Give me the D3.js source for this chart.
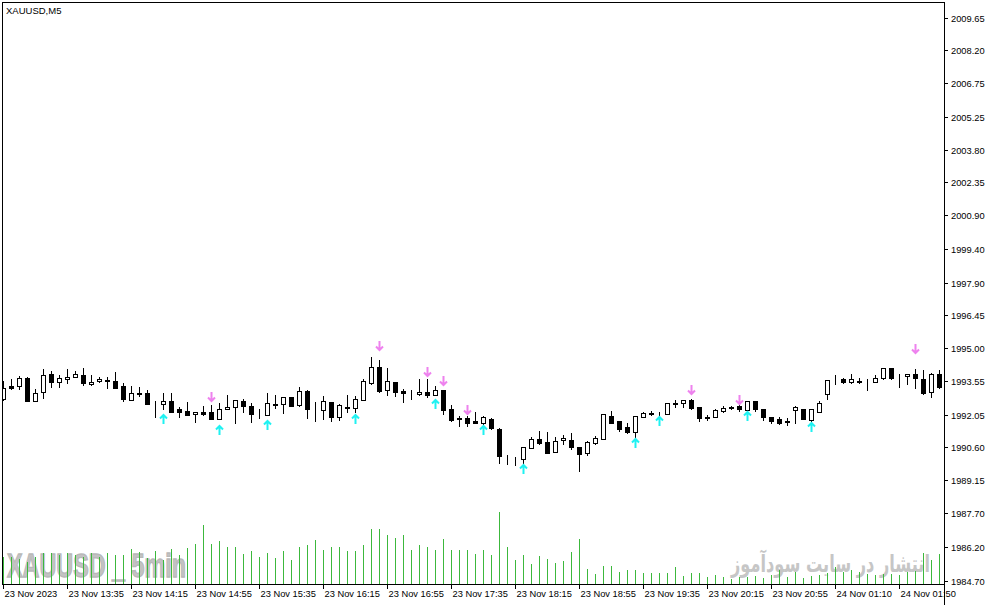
<!DOCTYPE html>
<html>
<head>
<meta charset="utf-8">
<script src="https://cdn.jsdelivr.net/npm/d3@7"></script>
<style>
  html, body { margin: 0; padding: 0; background: #fff; }
  svg text { font-family: "Liberation Sans", Arial, sans-serif; }
</style>
</head>
<body>
<svg id="chart" width="991" height="605"></svg>
<script>
// XAUUSD M5 bars
var opens = [1992.75,1993.30,1993.31,1993.68,1992.67,1993.04,1993.84,1993.49,1993.62,1993.71,
  1993.81,1993.40,1993.54,1993.60,1993.54,1993.32,1992.71,1993.02,1993.01,1992.63,
  1992.51,1992.65,1992.30,1992.20,1992.07,1992.16,1992.17,1991.85,1992.29,1992.38,
  1992.66,1992.42,1992.08,1992.03,1992.49,1992.51,1992.82,1992.46,1993.10,1992.27,
  1992.25,1992.62,1991.96,1992.39,1992.33,1992.69,1993.47,1994.15,1993.13,1993.49,
  1993.10,1993.01,1992.95,1993.06,1992.92,1993.13,1992.31,1991.88,1991.88,1991.79,
  1991.69,1991.87,1991.43,1990.19,1990.14,1990.09,1990.56,1990.96,1990.84,1990.39,
  1990.94,1990.91,1990.60,1990.33,1990.81,1990.96,1991.99,1991.77,1991.52,1991.27,
  1991.96,1992.13,1992.10,1992.09,1992.54,1992.55,1992.68,1992.37,1991.94,1991.94,
  1992.21,1992.38,1992.42,1992.25,1992.64,1992.29,1991.93,1991.86,1991.75,1992.24,
  1992.30,1991.81,1992.16,1992.98,1993.58,1993.64,1993.51,1993.53,1993.54,1993.51,
  1993.66,1994.10,1993.70,1993.75,1993.85,1993.62,1993.07,1993.85];
var highs = [1993.54,1993.62,1993.76,1993.71,1993.18,1994.07,1993.99,1993.82,1994.07,1993.99,
  1994.12,1993.81,1993.72,1993.72,1993.94,1993.44,1993.32,1993.26,1993.14,1992.65,
  1993.00,1993.00,1992.38,1992.60,1992.17,1992.45,1992.46,1992.56,1992.91,1992.69,
  1992.73,1992.56,1992.29,1993.00,1992.91,1992.83,1992.83,1993.26,1993.14,1992.60,
  1992.89,1992.63,1992.54,1992.91,1992.89,1993.62,1994.59,1994.47,1994.12,1993.50,
  1993.19,1993.14,1993.63,1993.63,1993.32,1993.14,1992.46,1991.97,1992.01,1992.17,
  1991.97,1991.88,1991.44,1990.25,1990.19,1990.62,1991.06,1991.33,1991.28,1991.04,
  1991.15,1991.22,1990.61,1990.88,1991.10,1992.08,1992.21,1991.78,1991.70,1992.00,
  1992.17,1992.21,1992.18,1992.56,1992.70,1992.69,1992.74,1992.38,1992.02,1992.31,
  1992.45,1992.45,1992.61,1992.65,1992.65,1992.30,1991.94,1991.94,1991.89,1992.45,
  1992.31,1992.29,1992.67,1993.59,1993.81,1993.69,1993.85,1993.69,1993.62,1993.81,
  1994.11,1994.11,1993.85,1993.85,1994.07,1994.03,1993.88,1994.03];
var lows = [1992.72,1993.18,1993.18,1992.66,1992.66,1992.78,1993.29,1993.29,1993.44,1993.70,
  1993.37,1993.35,1993.49,1993.25,1993.23,1992.66,1992.71,1992.86,1992.53,1991.95,
  1992.29,1992.17,1991.96,1992.04,1991.74,1992.05,1991.86,1991.84,1992.28,1991.67,
  1992.16,1991.71,1991.89,1992.02,1992.33,1992.14,1992.44,1992.45,1991.91,1991.76,
  1991.85,1991.78,1991.81,1992.18,1992.18,1992.68,1993.42,1993.07,1992.94,1992.88,
  1992.60,1992.76,1992.94,1992.82,1992.91,1992.08,1991.79,1991.54,1991.54,1991.67,
  1991.65,1991.43,1989.89,1989.85,1989.82,1989.91,1990.55,1990.74,1990.34,1990.38,
  1990.74,1990.51,1989.57,1990.25,1990.77,1990.95,1991.69,1991.34,1991.22,1991.03,
  1991.93,1992.02,1991.96,1992.08,1992.40,1992.40,1992.31,1991.78,1991.81,1991.93,
  1992.15,1992.30,1992.19,1992.24,1992.19,1991.82,1991.70,1991.62,1991.59,1991.70,
  1991.84,1991.78,1992.15,1992.76,1993.40,1993.44,1993.44,1993.44,1993.14,1993.50,
  1993.65,1993.63,1993.29,1993.41,1993.25,1992.95,1992.81,1993.25];
var closes = [1993.25,1993.25,1993.66,1992.67,1993.02,1993.80,1993.49,1993.68,1993.72,1993.84,
  1993.44,1993.49,1993.63,1993.54,1993.25,1992.75,1993.01,1992.97,1992.54,1992.59,
  1992.65,1992.18,1992.17,1992.05,1992.16,1992.10,1991.87,1992.29,1992.38,1992.69,
  1992.42,1992.07,1992.07,1992.56,1992.52,1992.82,1992.45,1993.09,1992.29,1992.25,
  1992.65,1991.95,1992.48,1992.33,1992.73,1993.53,1994.15,1993.11,1993.53,1993.07,
  1993.00,1992.99,1993.06,1992.91,1993.13,1992.24,1991.80,1991.85,1991.67,1991.68,
  1991.94,1991.44,1990.20,1990.17,1990.15,1990.61,1990.96,1990.81,1990.35,1990.90,
  1991.00,1990.60,1990.29,1990.84,1991.00,1992.07,1991.70,1991.43,1991.30,1991.99,
  1992.13,1992.09,1992.08,1992.55,1992.55,1992.68,1992.35,1991.89,1991.92,1992.25,
  1992.35,1992.36,1992.30,1992.64,1992.32,1991.94,1991.79,1991.67,1991.74,1992.38,
  1991.85,1992.28,1992.55,1993.58,1993.59,1993.51,1993.63,1993.51,1993.53,1993.66,
  1994.10,1993.69,1993.71,1993.84,1993.69,1993.02,1993.85,1993.26];
var volumes = [273,273,247,223,273,307,307,290,307,287,
  273,307,273,313,290,290,353,323,257,333,
  240,350,290,360,400,590,403,430,370,370,
  303,330,273,313,263,330,240,370,390,440,
  343,370,370,330,330,390,550,550,493,460,
  493,340,390,370,340,450,340,340,340,303,
  340,290,720,370,240,290,200,280,250,213,
  230,320,450,150,100,180,180,120,140,140,
  110,110,110,110,170,80,110,110,70,90,
  70,50,70,70,80,60,90,140,70,120,
  60,80,90,110,170,120,140,120,100,90,
  100,100,90,120,133,313,240,300];

// arrow signals (bar index, price of arrow tip)
var upArrowBars = [20,27,33,44,54,60,65,79,82,93,101];
var upArrowPrices = [1992.09,1991.57,1991.83,1992.07,1992.76,1991.59,1989.86,1991.00,1991.98,1992.23,1991.74];
var downArrowBars = [26,47,53,55,58,86,92,114];
var downArrowPrices = [1992.63,1994.89,1993.72,1993.34,1992.04,1992.90,1992.48,1994.74];

var timeLabelBars = [0,8,16,24,32,40,48,56,64,72,80,88,96,104,112];
var timeLabels = ['23 Nov 2023','23 Nov 13:35','23 Nov 14:15','23 Nov 14:55','23 Nov 15:35',
  '23 Nov 16:15','23 Nov 16:55','23 Nov 17:35','23 Nov 18:15','23 Nov 18:55','23 Nov 19:35',
  '23 Nov 20:15','23 Nov 20:55','24 Nov 01:10','24 Nov 01:50'];
var priceLabels = ['2009.65','2008.20','2006.75','2005.25','2003.80','2002.35','2000.90','1999.40',
  '1997.90','1996.45','1995.00','1993.55','1992.05','1990.60','1989.15','1987.70','1986.20','1984.70'];

var plotLeft = 3, plotTop = 3, plotRight = 944, plotBottom = 584;

var svg = d3.select('#chart');

var x = d3.scaleLinear().domain([0, opens.length - 1]).range([3, 3 + 8 * (opens.length - 1)]);
var y = d3.scaleLinear()
  .domain([+priceLabels[priceLabels.length - 1], +priceLabels[0]])
  .range([580.5, 17.5]);
var yVol = d3.scaleLinear().domain([0, d3.max(volumes)]).range([plotBottom, 512]);

svg.append('clipPath').attr('id', 'plot')
  .append('rect')
  .attr('x', plotLeft).attr('y', plotTop)
  .attr('width', plotRight - plotLeft).attr('height', plotBottom - plotTop);

var plot = svg.append('g').attr('clip-path', 'url(#plot)');

// squeeze a text horizontally so it spans the wanted width
var fitText = function(parent, cx, by, width, txt, style) {
  var g = parent.append('g');
  var t = g.append('text').attr('x', 0).attr('y', 0).attr('text-anchor', 'middle').text(txt);
  Object.keys(style).forEach(function(k) { t.style(k, style[k]); });
  var w = t.node().getComputedTextLength();
  g.attr('transform', 'translate(' + cx + ',' + by + ') scale(' + (width / w) + ',1)');
  return t;
};

// watermarks sit under the volume bars
fitText(plot, 96.5, 577, 179, 'XAUUSD _ 5min', {
  'font-size': '33px', 'font-weight': 'bold', 'fill': '#c3c3c3',
  'stroke': '#b9b9b9', 'stroke-width': '1.3px'
});
fitText(plot, 830.5, 572, 199, 'انتشار در سایت سودآموز', {
  'font-family': '"DejaVu Sans", sans-serif', 'font-size': '24px', 'font-weight': 'bold',
  'fill': '#c6c6c6'
});

var idx = d3.range(opens.length);

plot.append('g').selectAll('line').data(idx).enter().append('line')
  .attr('x1', function(i) { return x(i) + 0.5; })
  .attr('x2', function(i) { return x(i) + 0.5; })
  .attr('y1', plotBottom)
  .attr('y2', function(i) { return Math.round(yVol(volumes[i])); })
  .attr('stroke', '#3cb83c')
  .attr('stroke-width', 1);

var candles = plot.append('g').attr('shape-rendering', 'crispEdges');

candles.selectAll('line').data(idx).enter().append('line')
  .attr('x1', function(i) { return x(i) + 0.5; })
  .attr('x2', function(i) { return x(i) + 0.5; })
  .attr('y1', function(i) { return Math.round(y(highs[i])); })
  .attr('y2', function(i) { return Math.round(y(lows[i])) + 1; })
  .attr('stroke', '#000');

candles.selectAll('rect').data(idx).enter().append('rect')
  .attr('x', function(i) { return x(i) - 1.5; })
  .attr('y', function(i) { return Math.round(y(Math.max(opens[i], closes[i]))) + 0.5; })
  .attr('width', 4)
  .attr('height', function(i) {
    return Math.round(y(Math.min(opens[i], closes[i]))) - Math.round(y(Math.max(opens[i], closes[i])));
  })
  .attr('fill', function(i) { return closes[i] > opens[i] ? '#fff' : '#000'; })
  .attr('stroke', '#000');

// arrows
var arrowUp = function(cx, ty) {
  return 'M' + cx + ',' + (ty + 1) + 'L' + cx + ',' + (ty + 10) +
    'M' + (cx - 3.5) + ',' + (ty + 4.5) + 'L' + cx + ',' + (ty + 1) + 'L' + (cx + 3.5) + ',' + (ty + 4.5);
};
var arrowDown = function(cx, by) {
  return 'M' + cx + ',' + (by - 1) + 'L' + cx + ',' + (by - 10) +
    'M' + (cx - 3.5) + ',' + (by - 4.5) + 'L' + cx + ',' + (by - 1) + 'L' + (cx + 3.5) + ',' + (by - 4.5);
};

plot.append('g').selectAll('path').data(upArrowBars).enter().append('path')
  .attr('d', function(b, k) { return arrowUp(x(b) + 0.5, Math.round(y(upArrowPrices[k]))); })
  .attr('fill', 'none').attr('stroke', '#1ff2f2').attr('stroke-width', 2);

plot.append('g').selectAll('path').data(downArrowBars).enter().append('path')
  .attr('d', function(b, k) { return arrowDown(x(b) + 0.5, Math.round(y(downArrowPrices[k]))); })
  .attr('fill', 'none').attr('stroke', '#ee82ee').attr('stroke-width', 2);

// frame
svg.append('path')
  .attr('d', 'M' + (plotLeft - 0.5) + ',' + (plotBottom + 0.5) + 'V' + (plotTop - 0.5) + 'H' + (plotRight + 0.5) +
    'V' + 605 + 'M' + (plotLeft - 0.5) + ',' + (plotBottom + 0.5) + 'H' + (plotRight + 0.5))
  .attr('fill', 'none').attr('stroke', '#000').attr('shape-rendering', 'crispEdges');

svg.append('text')
  .attr('x', 6).attr('y', 14)
  .style('font-size', '9.5px')
  .text('XAUUSD,M5');

// price axis
var pAxis = svg.append('g');
priceLabels.forEach(function(lbl) {
  var py = Math.round(y(+lbl)) + 0.5;
  pAxis.append('line')
    .attr('x1', plotRight).attr('x2', plotRight + 4)
    .attr('y1', py).attr('y2', py)
    .attr('stroke', '#000').attr('shape-rendering', 'crispEdges');
  pAxis.append('text')
    .attr('x', 951).attr('y', py + 3.5)
    .style('font-size', '9.3px')
    .text(lbl);
});

// time axis
var tAxis = svg.append('g');
timeLabelBars.forEach(function(b, k) {
  var tx = x(b) + 0.5;
  tAxis.append('line')
    .attr('x1', tx).attr('x2', tx)
    .attr('y1', plotBottom).attr('y2', plotBottom + 5)
    .attr('stroke', '#000').attr('shape-rendering', 'crispEdges');
  tAxis.append('text')
    .attr('x', tx + 1).attr('y', 597)
    .style('font-size', '9.3px')
    .text(timeLabels[k]);
});
</script>
</body>
</html>
